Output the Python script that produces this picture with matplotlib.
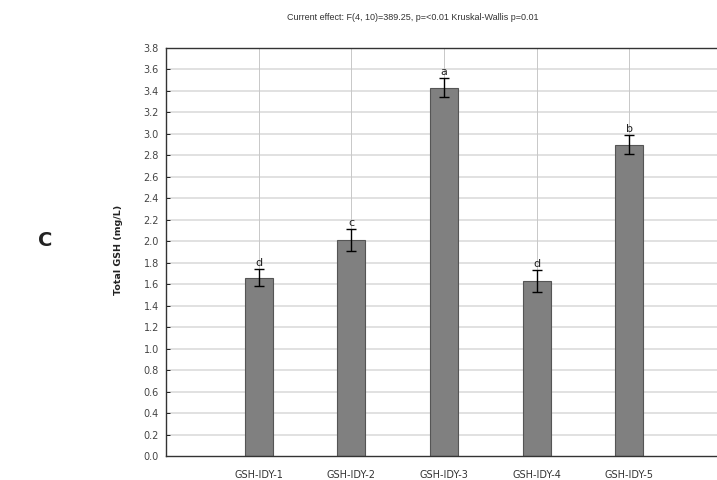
import matplotlib
matplotlib.use("Agg")
import matplotlib.pyplot as plt
import numpy as np

categories = ["GSH-IDY-1", "GSH-IDY-2", "GSH-IDY-3", "GSH-IDY-4", "GSH-IDY-5"]
means = [1.66, 2.01, 3.43, 1.63, 2.90]
errors = [0.08, 0.10, 0.09, 0.10, 0.09]
letters = ["d", "c", "a", "d", "b"]
yticks = [round(0.2 * i, 1) for i in range(20)]

fig = plt.figure(figsize=(7.17, 4.80), dpi=100)
ax = fig.add_axes([166 / 717, 24 / 480, 556 / 717, 408 / 480])

x = np.arange(1, len(categories) + 1)
ax.set_xlim(0, 6)
ax.set_ylim(0, 3.8)

for yt in yticks[1:]:
    ax.axhline(yt, color="#dedede", lw=1.3, zorder=0)
for xi in x:
    ax.axvline(xi, color="#c8c8c8", lw=0.7, zorder=0)

ax.bar(x, means, width=0.3, color="#808080", edgecolor="#555555", lw=0.8, zorder=2)
ax.errorbar(x, means, yerr=errors, fmt="none", ecolor="black", elinewidth=1.0,
            capsize=3.5, capthick=1.0, zorder=3)
for xi, m, e, l in zip(x, means, errors, letters):
    ax.annotate(l, (xi, m + e), xytext=(0, 1), textcoords="offset points",
                ha="center", va="bottom", fontsize=8, color="#222222",
                family="DejaVu Sans")

ax.set_yticks(yticks)
ax.set_yticklabels([f"{v:.1f}" for v in yticks], fontsize=7, color="#444444",
                   family="DejaVu Sans")
ax.set_xticks(x)
ax.set_xticklabels(categories, fontsize=7, color="#333333", family="DejaVu Sans")
ax.tick_params(axis="y", direction="in", length=3, width=0.6, pad=5)
ax.tick_params(axis="x", length=0, pad=10)
for s in ["left", "bottom", "top"]:
    ax.spines[s].set_linewidth(1.0)
    ax.spines[s].set_color("#333333")
ax.spines["right"].set_visible(False)

fig.text(413 / 717, 1 - 17 / 480,
         "Current effect: F(4, 10)=389.25, p=<0.01 Kruskal-Wallis p=0.01",
         ha="center", va="center", fontsize=6.5, color="#333333",
         family="Liberation Sans")
fig.text(118 / 717, 1 - 250 / 480, "Total GSH (mg/L)", rotation=90,
         ha="center", va="center", fontsize=6.8, fontweight="bold",
         color="#222222", family="DejaVu Sans")
fig.text(45 / 717, 1 - 241 / 480, "C", ha="center", va="center",
         fontsize=14, fontweight="bold", color="#222222", family="DejaVu Sans")

fig.savefig("out.png", dpi=100)
